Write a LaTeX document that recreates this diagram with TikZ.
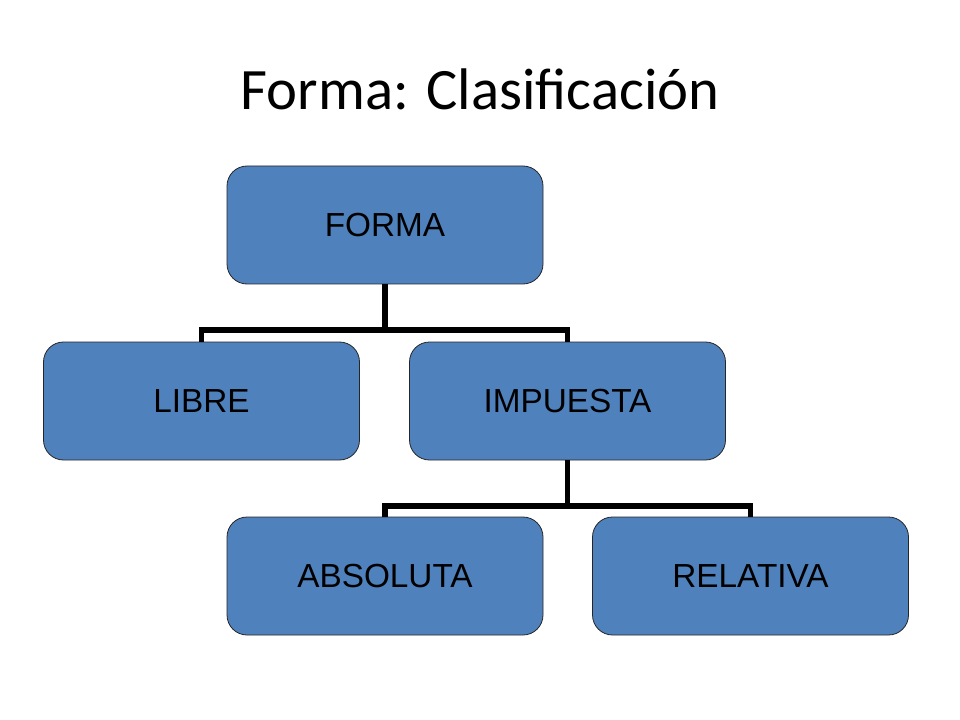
\documentclass[tikz,border=0pt]{standalone}
\usepackage{fontspec}
\setmainfont{Liberation Sans}
\newfontfamily\titlefont{Carlito}
\begin{document}
\begin{tikzpicture}[x=0.75pt,y=-0.75pt,
  boxnode/.style={draw=black!85, line width=0.6pt, fill=boxblue, rounded corners=15pt,
    minimum width=237pt, minimum height=88.5pt, inner sep=0pt,
    font=\fontsize{25}{30}\selectfont},
  conn/.style={line width=3.8pt, line join=miter, draw=black}]
\definecolor{boxblue}{HTML}{4F81BD}
\useasboundingbox (0,0) rectangle (960,720);
\node[anchor=base, font=\titlefont\fontsize{44}{52}\selectfont] (title) at (480,110) {Forma: Clasificación};
\node[boxnode] (forma) at (385,225) {FORMA};
\node[boxnode] (libre) at (201.5,401) {LIBRE};
\node[boxnode] (impuesta) at (567.5,401) {IMPUESTA};
\node[boxnode] (absoluta) at (385,576) {ABSOLUTA};
\node[boxnode] (relativa) at (750.5,576) {RELATIVA};
\coordinate (j1) at (385,330);
\coordinate (j2) at (567.5,506);
\draw[conn] (forma.south) -- (j1);
\draw[conn] (libre.north) |- (j1) -| (impuesta.north);
\draw[conn] (impuesta.south) -- (j2);
\draw[conn] (absoluta.north) |- (j2) -| (relativa.north);
\end{tikzpicture}
\end{document}
